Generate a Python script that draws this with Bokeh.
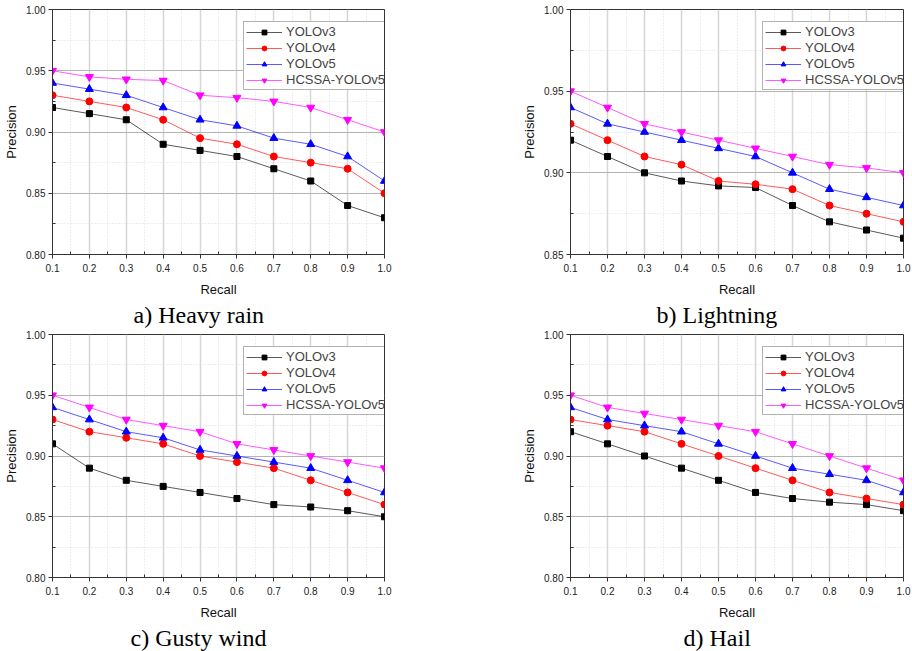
from bokeh.plotting import figure
from bokeh.layouts import column, row
from bokeh.models import (Title, FixedTicker, Range1d, Legend,
                          LegendItem, PrintfTickFormatter)
from bokeh.embed import file_html
from bokeh.resources import INLINE

recall = [0.1, 0.2, 0.3, 0.4, 0.5, 0.6, 0.7, 0.8, 0.9, 1.0]
series_names = ["YOLOv3", "YOLOv4", "YOLOv5", "HCSSA-YOLOv5"]

# a) Heavy rain
heavy_v3 = [0.920, 0.915, 0.910, 0.890, 0.885, 0.880, 0.870, 0.860, 0.840, 0.830]
heavy_v4 = [0.930, 0.925, 0.920, 0.910, 0.895, 0.890, 0.880, 0.875, 0.870, 0.850]
heavy_v5 = [0.940, 0.935, 0.930, 0.920, 0.910, 0.905, 0.895, 0.890, 0.880, 0.860]
heavy_hc = [0.950, 0.945, 0.943, 0.942, 0.930, 0.928, 0.925, 0.920, 0.910, 0.900]

# b) Lightning
light_v3 = [0.920, 0.910, 0.900, 0.895, 0.892, 0.891, 0.880, 0.870, 0.865, 0.860]
light_v4 = [0.930, 0.920, 0.910, 0.905, 0.895, 0.893, 0.890, 0.880, 0.875, 0.870]
light_v5 = [0.940, 0.930, 0.925, 0.920, 0.915, 0.910, 0.900, 0.890, 0.885, 0.880]
light_hc = [0.950, 0.940, 0.930, 0.925, 0.920, 0.915, 0.910, 0.905, 0.903, 0.900]

# c) Gusty wind
gust_v3 = [0.910, 0.890, 0.880, 0.875, 0.870, 0.865, 0.860, 0.858, 0.855, 0.850]
gust_v4 = [0.930, 0.920, 0.915, 0.910, 0.900, 0.895, 0.890, 0.880, 0.870, 0.860]
gust_v5 = [0.940, 0.930, 0.920, 0.915, 0.905, 0.900, 0.895, 0.890, 0.880, 0.870]
gust_hc = [0.950, 0.940, 0.930, 0.925, 0.920, 0.910, 0.905, 0.900, 0.895, 0.890]

# d) Hail
hail_v3 = [0.920, 0.910, 0.900, 0.890, 0.880, 0.870, 0.865, 0.862, 0.860, 0.855]
hail_v4 = [0.930, 0.925, 0.920, 0.910, 0.900, 0.890, 0.880, 0.870, 0.865, 0.860]
hail_v5 = [0.940, 0.930, 0.925, 0.920, 0.910, 0.900, 0.890, 0.885, 0.880, 0.870]
hail_hc = [0.950, 0.940, 0.935, 0.930, 0.925, 0.920, 0.910, 0.900, 0.890, 0.880]

x_major = [0.1, 0.2, 0.3, 0.4, 0.5, 0.6, 0.7, 0.8, 0.9, 1.0]
x_minor = [0.15, 0.25, 0.35, 0.45, 0.55, 0.65, 0.75, 0.85, 0.95]
y_major_full = [0.80, 0.85, 0.90, 0.95, 1.00]
y_minor_full = [0.825, 0.875, 0.925, 0.975]

colors = ["#000000", "#ff0000", "#0000ff", "#ff00ff"]
markers = ["square", "circle", "triangle", "inverted_triangle"]
msizes = [6, 7, 8, 8]

SANS = "Liberation Sans"
SERIF = "Liberation Serif"


def make_panel(caption, cap_offset, data, ymin, left, frame_w, right,
               top, frame_h, bottom):
    width = left + frame_w + right
    height = top + frame_h + bottom
    p = figure(width=width, height=height, output_backend="svg",
               toolbar_location=None, x_range=Range1d(0.1, 1.0),
               y_range=Range1d(ymin, 1.0),
               min_border_left=left, min_border_right=right,
               min_border_top=top, min_border_bottom=bottom)
    p.outline_line_color = "#333333"
    p.outline_line_width = 1
    p.background_fill_color = "white"
    p.border_fill_color = "white"

    ymaj = [v for v in y_major_full if v >= ymin - 1e-9]
    ymin_t = [v for v in y_minor_full if v >= ymin - 1e-9]
    xt = FixedTicker(ticks=x_major, minor_ticks=x_minor)
    yt = FixedTicker(ticks=ymaj, minor_ticks=ymin_t)

    xa = p.xaxis[0]
    xa.ticker = xt
    xa.formatter = PrintfTickFormatter(format="%.1f")
    xa.axis_label = "Recall"
    ya = p.yaxis[0]
    ya.ticker = yt
    ya.formatter = PrintfTickFormatter(format="%.2f")
    ya.axis_label = "Precision"
    for ax in (xa, ya):
        ax.axis_line_color = "#333333"
        ax.major_tick_line_color = "#333333"
        ax.minor_tick_line_color = "#333333"
        ax.major_tick_out = 4
        ax.major_tick_in = 0
        ax.minor_tick_out = 0
        ax.minor_tick_in = 3
        ax.major_label_text_font = SANS
        ax.major_label_text_font_size = "10px"
        ax.major_label_text_color = "#222222"
        ax.axis_label_text_font = SANS
        ax.axis_label_text_font_size = "13px"
        ax.axis_label_text_font_style = "normal"
        ax.axis_label_text_color = "#111111"
    xa.major_label_standoff = 5
    xa.axis_label_standoff = 7
    ya.major_label_standoff = 3
    ya.axis_label_standoff = 4

    p.xgrid.ticker = xt
    p.ygrid.ticker = yt
    p.xgrid.grid_line_color = "#d6d6d6"
    p.xgrid.grid_line_width = 1.5
    p.ygrid.grid_line_color = "#b4b4b4"
    p.ygrid.grid_line_width = 1
    for g in (p.xgrid, p.ygrid):
        g.minor_grid_line_color = "#dcdcdc"
        g.minor_grid_line_dash = "1 2"
        g.minor_grid_line_width = 1

    items = []
    for name, ys, c, m, s in zip(series_names, data, colors, markers, msizes):
        ln = p.line(recall, ys, line_color=c, line_width=1, line_alpha=0.65)
        sc = p.scatter(recall, ys, marker=m, size=s, fill_color=c, line_color=c)
        items.append(LegendItem(label=name, renderers=[ln, sc]))

    leg = Legend(items=items, location=(frame_w - 141, frame_h - 13 - 69))
    leg.label_text_font = SANS
    leg.label_text_font_size = "13px"
    leg.label_height = 12
    leg.glyph_height = 12
    leg.glyph_width = 36
    leg.label_standoff = 4
    leg.spacing = 1
    leg.padding = 2
    leg.margin = 0
    leg.border_line_color = "#666666"
    leg.border_line_width = 1
    leg.background_fill_color = "white"
    leg.background_fill_alpha = 1
    p.add_layout(leg, "center")

    t = Title(text=caption, align="left", offset=cap_offset, standoff=1,
              text_font=SERIF, text_font_size="24px",
              text_font_style="normal", text_color="#000000")
    p.add_layout(t, "below")
    return p


pa = make_panel("a) Heavy rain", 81, [heavy_v3, heavy_v4, heavy_v5, heavy_hc],
                0.80, 52, 332, 72, 9, 246, 73)
pb = make_panel("b) Lightning", 86, [light_v3, light_v4, light_v5, light_hc],
                0.85, 114, 333, 9, 9, 246, 73)
pc = make_panel("c) Gusty wind", 78, [gust_v3, gust_v4, gust_v5, gust_hc],
                0.80, 52, 332, 72, 6, 244, 73)
pd = make_panel("d) Hail", 113, [hail_v3, hail_v4, hail_v5, hail_hc],
                0.80, 114, 333, 9, 6, 244, 73)

layout = column(row(pa, pb), row(pc, pd))
open("out.html", "w").write(file_html(layout, INLINE))
